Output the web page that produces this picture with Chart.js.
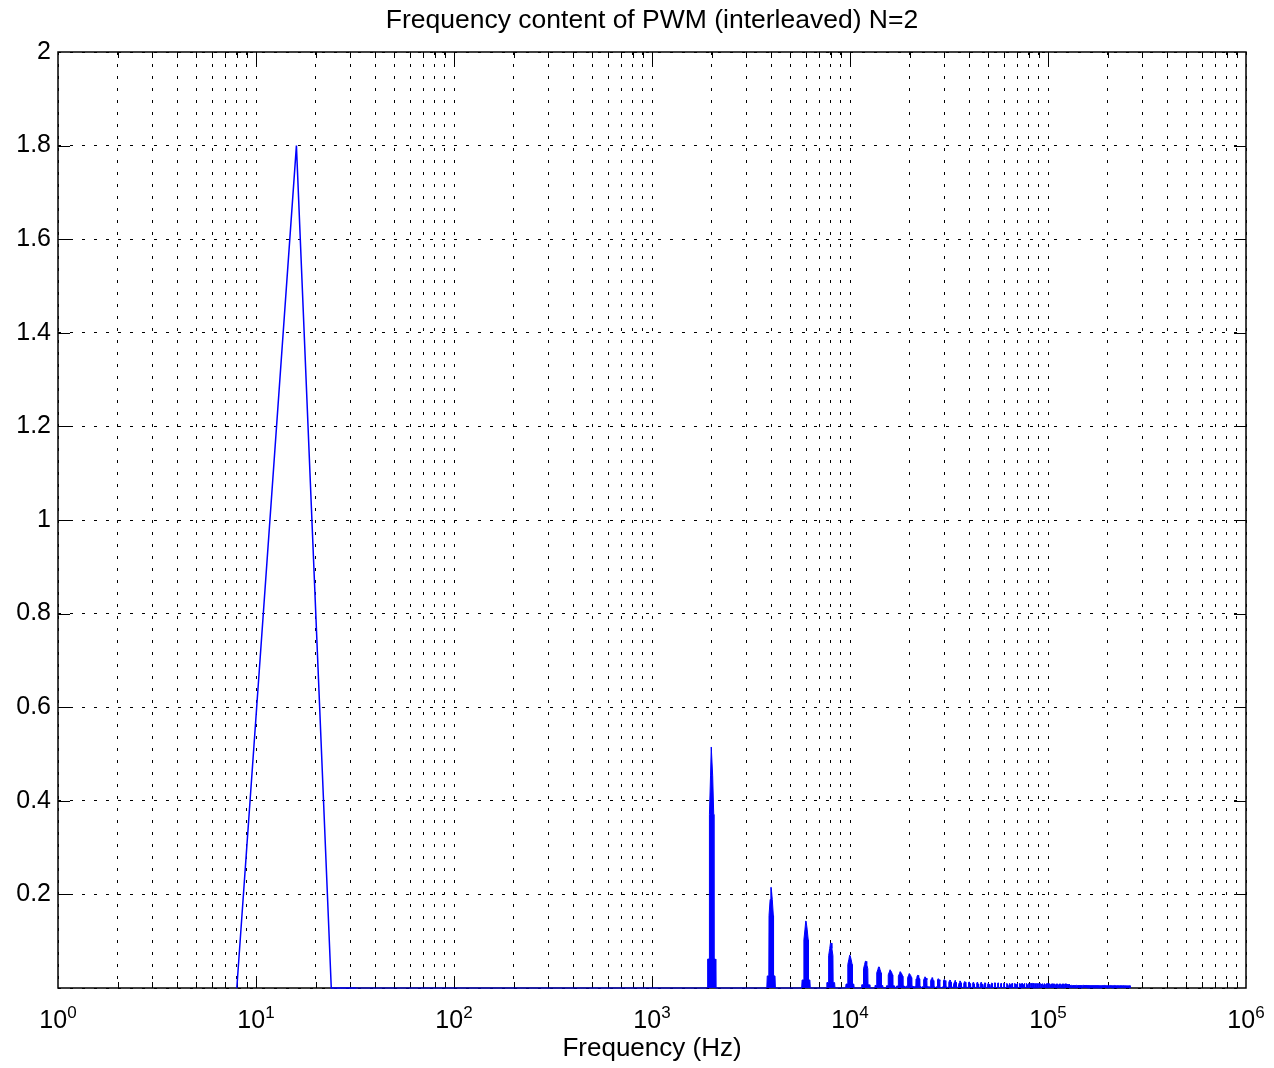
<!DOCTYPE html>
<html><head><meta charset="utf-8">
<script src="https://cdn.jsdelivr.net/npm/chart.js@4/dist/chart.umd.min.js"></script>
<style>html,body{margin:0;padding:0;background:#fff;}canvas{display:block;}</style>
</head><body>
<canvas id="c" width="1274" height="1068"></canvas>
<script>
// ---------------- data ----------------
const titleText = 'Frequency content of PWM (interleaved) N=2';
const xAxisLabel = 'Frequency (Hz)';
const yTickValues = [0, 0.2, 0.4, 0.6, 0.8, 1, 1.2, 1.4, 1.6, 1.8, 2];
const xDecadeExponents = [0, 1, 2, 3, 4, 5, 6];

// fundamental-region FFT bins (8 Hz spacing)
const lowFreqHz = [8, 16, 24, 32];
const lowAmp = [0, 1.8, 0, 0];

// switching harmonics, every 2 kHz from 2 kHz to 260 kHz
const harmonicSpacingHz = 2000;
const harmonicAmp = [
  0.515, 0.215, 0.143, 0.096, 0.070, 0.057, 0.045, 0.039, 0.035, 0.031,
  0.027, 0.024, 0.022, 0.020, 0.018, 0.017, 0.016, 0.015, 0.014, 0.013,
  0.012, 0.012, 0.012, 0.011, 0.011, 0.011, 0.011, 0.011, 0.010, 0.010,
  0.010, 0.010, 0.010, 0.010, 0.010, 0.010, 0.010, 0.010, 0.010, 0.010,
  0.010, 0.010, 0.0095, 0.0095, 0.0095, 0.0095, 0.0095, 0.0095, 0.0095, 0.0095,
  0.0095, 0.009, 0.009, 0.009, 0.009, 0.009, 0.009, 0.009, 0.009, 0.009,
  0.009, 0.009, 0.0085, 0.0085, 0.006, 0.006, 0.006, 0.006, 0.006, 0.006,
  0.006, 0.006, 0.006, 0.006, 0.006, 0.006, 0.006, 0.006, 0.006, 0.006,
  0.0058, 0.0058, 0.0058, 0.0058, 0.0058, 0.0058, 0.0058, 0.0058, 0.0058, 0.0058,
  0.0056, 0.0056, 0.0056, 0.0056, 0.0056, 0.0056, 0.0056, 0.0056, 0.0056, 0.0056,
  0.0055, 0.0055, 0.0055, 0.0055, 0.0055, 0.0055, 0.0055, 0.0055, 0.0055, 0.0055,
  0.0054, 0.0054, 0.0054, 0.0054, 0.0054, 0.0054, 0.0054, 0.0054, 0.0054, 0.0054,
  0.0052, 0.0052, 0.0052, 0.0052, 0.0052, 0.0052, 0.0052, 0.0052, 0.0052, 0.0052
];

// ---------------- style ----------------
const FONT = '"Liberation Sans", Arial, Helvetica, sans-serif';
const BLUE = '#0000ff';
const GRID_DASH = [3, 9];
// drawn spike outline: [relative offset of half-width, relative level of peak]
const SPIKE_PROFILE = [[-1,0],[-0.9,0.12],[-0.55,0.12],[-0.5,0.72],[-0.25,0.88],[-0.08,1],[0,1],[0.08,1],[0.25,0.88],[0.5,0.72],[0.55,0.12],[0.9,0.12],[1,0]];
const SPIKE_REL_WIDTH = 0.05, SPIKE_MAX_HALF_HZ = 900;

// ---------------- build tables ----------------
const lowPts = lowFreqHz.map((f, i) => ({x: f, y: lowAmp[i]}));
const harmPts = [{x: lowFreqHz[lowFreqHz.length - 1], y: 0}];
harmonicAmp.forEach((a, i) => {
  const f = (i + 1) * harmonicSpacingHz;
  const hw = Math.min(f * SPIKE_REL_WIDTH, SPIKE_MAX_HALF_HZ);
  SPIKE_PROFILE.forEach(([o, l]) => harmPts.push({x: f + o * hw, y: a * l}));
});

const xTickValues = [];
xDecadeExponents.forEach(e => {
  for (let m = 1; m < 10; m++) { const v = m * Math.pow(10, e); if (v <= 1e6) xTickValues.push(v); }
});

const framePlugin = {
  id: 'frame',
  beforeDatasetsDraw(chart) {
    const {ctx, chartArea: {left, right, top, bottom}, scales: {x, y}} = chart;
    ctx.save();
    ctx.strokeStyle = '#000';
    ctx.lineWidth = 1;
    const line = (x1, y1, x2, y2) => { ctx.beginPath(); ctx.moveTo(x1, y1); ctx.lineTo(x2, y2); ctx.stroke(); };
    xTickValues.forEach(v => {
      if (v <= 1 || v >= 1e6) return;
      const px = Math.round(x.getPixelForValue(v)) + 0.5;
      const major = Math.abs(Math.log10(v) - Math.round(Math.log10(v))) < 1e-9;
      const len = major ? 12 : 6;
      line(px, bottom, px, bottom - len);
      line(px, top, px, top + len);
    });
    yTickValues.forEach(v => {
      if (v <= 0 || v >= 2) return;
      const py = Math.round(y.getPixelForValue(v)) + 0.5;
      line(left, py, left + 12, py);
      line(right, py, right - 12, py);
    });
    ctx.lineWidth = 1.5;
    ctx.strokeRect(left, top, right - left, bottom - top);
    // x tick labels 10^n
    ctx.fillStyle = '#000';
    ctx.textBaseline = 'alphabetic';
    ctx.textAlign = 'left';
    xDecadeExponents.forEach(e => {
      const px = x.getPixelForValue(Math.pow(10, e));
      ctx.font = '25px ' + FONT;
      const w1 = ctx.measureText('10').width;
      ctx.font = '17px ' + FONT;
      const w2 = ctx.measureText(String(e)).width;
      const sx = px - (w1 + w2) / 2;
      ctx.font = '25px ' + FONT;
      ctx.fillText('10', sx, 1028);
      ctx.font = '17px ' + FONT;
      ctx.fillText(String(e), sx + w1, 1018);
    });
    ctx.restore();
  }
};

new Chart(document.getElementById('c'), {
  type: 'line',
  data: {
    datasets: [
      {data: lowPts, borderColor: BLUE, borderWidth: 1.5, pointRadius: 0, fill: false, tension: 0, clip: 2},
      {data: harmPts, borderColor: BLUE, backgroundColor: BLUE, borderWidth: 1, pointRadius: 0, fill: 'origin', tension: 0, clip: 2}
    ]
  },
  options: {
    responsive: false,
    animation: false,
    devicePixelRatio: 1,
    layout: {padding: {left: 0, right: 28, top: 0, bottom: 0}},
    plugins: {
      legend: {display: false},
      tooltip: {enabled: false},
      title: {
        display: true, text: titleText, fullSize: false, color: '#000',
        font: {family: FONT, size: 26.5, weight: 'normal'},
        padding: {top: 5, bottom: 15.2}
      }
    },
    scales: {
      x: {
        type: 'logarithmic', min: 1, max: 1e6,
        afterBuildTicks: s => { s.ticks = xTickValues.map(v => ({value: v})); },
        afterFit: s => { s.height = 80; },
        ticks: {display: false},
        grid: {color: '#000', lineWidth: 1, drawTicks: false},
        border: {display: false, dash: GRID_DASH},
        title: {display: true, text: xAxisLabel, color: '#000', font: {family: FONT, size: 26, weight: 'normal'}, padding: {top: 0, bottom: 3.4}}
      },
      y: {
        min: 0, max: 2,
        afterBuildTicks: s => { s.ticks = yTickValues.map(v => ({value: v})); },
        afterFit: s => { s.width = 58; },
        ticks: {
          color: '#000', font: {family: FONT, size: 25}, padding: 7,
          callback: v => (v === 0 ? '' : String(Math.round(v * 10) / 10))
        },
        grid: {color: '#000', lineWidth: 1, drawTicks: false},
        border: {display: false, dash: GRID_DASH}
      }
    }
  },
  plugins: [framePlugin]
});
</script>
</body></html>
